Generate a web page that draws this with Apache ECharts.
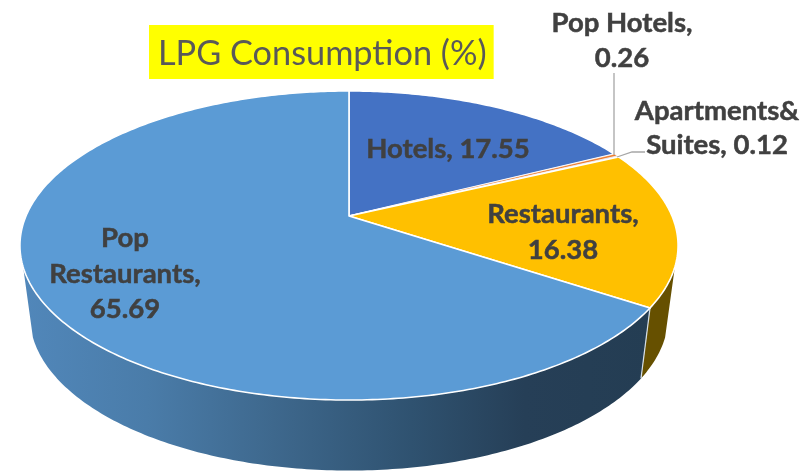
<!DOCTYPE html>
<html>
<head>
<meta charset="utf-8">
<style>html,body{margin:0;padding:0;background:#fff}#c{width:803px;height:471px}</style>
<script src="https://cdn.jsdelivr.net/npm/echarts@6/dist/echarts.min.js"></script>
</head>
<body>
<div id="c"></div>
<script>
const categories = ['Hotels', 'Pop Hotels', 'Apartments& Suites', 'Restaurants', 'Pop Restaurants'];
const values = [17.55, 0.26, 0.12, 16.38, 65.69];
const faceColors = ['#4472C4', '#ED7D31', '#A5A5A5', '#FFC000', '#5B9BD5'];
const titleText = 'LPG Consumption (%)';

// label text, one entry per line, with the anchor of each line
const labelLayout = [
  [['Hotels, 17.55', 448, 149]],
  [['Pop Hotels,', 622, 23], ['0.26', 622, 58]],
  [['Apartments&', 717, 111], ['Suites, 0.12', 717, 145]],
  [['Restaurants,', 563, 214], ['16.38', 563, 250]],
  [['Pop', 125, 238], ['Restaurants,', 125, 274], ['65.69', 125, 309]]
];
const leaderLines = [
  null,
  [[614, 73], [614, 155]],
  [[617, 157], [632, 152], [645, 152]],
  null,
  null
];

// perspective of the pie plane
const view = { hubX: 349, hubY: 216, a: 323, b: 148.9, k: 0.191, depth: 70.5, baseScaleX: 0.97 };
const silhouette = 108.75; // degrees from the top where the side wall turns away

function top3d(deg) {
  const t = deg * Math.PI / 180, u = Math.sin(t), v = Math.cos(t), d = 1 + view.k * v;
  return [view.hubX + view.a * u / d, view.hubY - view.b * v / d];
}
function bottom3d(deg) {
  const p = top3d(deg);
  return [view.hubX + (p[0] - view.hubX) * view.baseScaleX, p[1] + view.depth];
}
function arc(fn, from, to) {
  const pts = [], n = Math.max(2, Math.ceil(Math.abs(to - from) / 0.75));
  for (let i = 0; i <= n; i++) pts.push(fn(from + (to - from) * i / n));
  return pts;
}
const total = values.reduce((s, x) => s + x, 0);
function range(i) {
  let s = 0;
  for (let j = 0; j < i; j++) s += values[j];
  return [s / total * 360, (s + values[i]) / total * 360];
}

function wallFill(i) {
  if (faceColors[i] === '#FFC000') return '#665000';
  return new echarts.graphic.LinearGradient(22, 0, 650, 0, [
    { offset: 0, color: '#5187BA' },
    { offset: 0.2, color: '#4A7CA9' },
    { offset: 0.4, color: '#3E688D' },
    { offset: 0.62, color: '#2F5270' },
    { offset: 0.8, color: '#263F57' },
    { offset: 1, color: '#243D53' }
  ], true);
}

function renderWall(params, api) {
  const i = params.dataIndex;
  api.value(0);
  const r = range(i);
  const from = Math.max(r[0], silhouette), to = Math.min(r[1], 360 - silhouette);
  if (to <= from) return { type: 'group', children: [] };
  const pts = arc(top3d, from, to).concat(arc(bottom3d, to, from));
  return { type: 'polygon', shape: { points: pts }, style: { fill: wallFill(i) } };
}

function renderFace(params, api) {
  const i = params.dataIndex;
  api.value(0);
  const r = range(i);
  const pts = [[view.hubX, view.hubY]].concat(arc(top3d, r[0], r[1]));
  const children = [{
    type: 'polygon', shape: { points: pts },
    style: { fill: faceColors[i], stroke: '#fff', lineWidth: values[i] < 1 ? 0.5 : 1.6, lineJoin: 'round' }
  }];
  return { type: 'group', children };
}

function renderLabel(params, api) {
  const i = params.dataIndex;
  api.value(0);
  const children = [];
  if (leaderLines[i]) {
    children.push({
      type: 'polyline', shape: { points: leaderLines[i] },
      style: { fill: 'none', stroke: '#A6A6A6', lineWidth: 1.3 }
    });
  }
  labelLayout[i].forEach(l => children.push({
    type: 'text',
    style: {
      text: l[0], x: l[1], y: l[2], align: 'center', verticalAlign: 'middle',
      font: 'bold 27.5px Lato', fill: '#404040', stroke: '#404040', lineWidth: 0.5
    }
  }));
  return { type: 'group', children };
}

function renderSeam(params, api) {
  api.value(0);
  const a = range(3)[1];
  return {
    type: 'line',
    shape: { x1: top3d(a)[0], y1: top3d(a)[1], x2: bottom3d(a)[0], y2: bottom3d(a)[1] },
    style: { stroke: '#D5DEE6', lineWidth: 1.2 }
  };
}

const data = values.map((v, i) => ({ name: categories[i], value: [v] }));
const chart = echarts.init(document.getElementById('c'), null, { renderer: 'canvas' });
chart.setOption({
  animation: false,
  backgroundColor: '#fff',
  title: {
    text: titleText, left: 149, top: 25, padding: [9, 7, 5, 9],
    backgroundColor: '#FFFF00',
    textStyle: { fontFamily: 'Lato', fontWeight: 'normal', fontSize: 34.3, color: '#595959', lineHeight: 40 }
  },
  series: [
    { type: 'custom', coordinateSystem: 'none', silent: true, data, renderItem: renderWall, z: 1 },
    { type: 'custom', coordinateSystem: 'none', silent: true, data: [data[3]], renderItem: renderSeam, z: 2 },
    { type: 'custom', coordinateSystem: 'none', silent: true, data, renderItem: renderFace, z: 3 },
    { type: 'custom', coordinateSystem: 'none', silent: true, data, renderItem: renderLabel, z: 4 }
  ]
});
</script>
</body>
</html>
